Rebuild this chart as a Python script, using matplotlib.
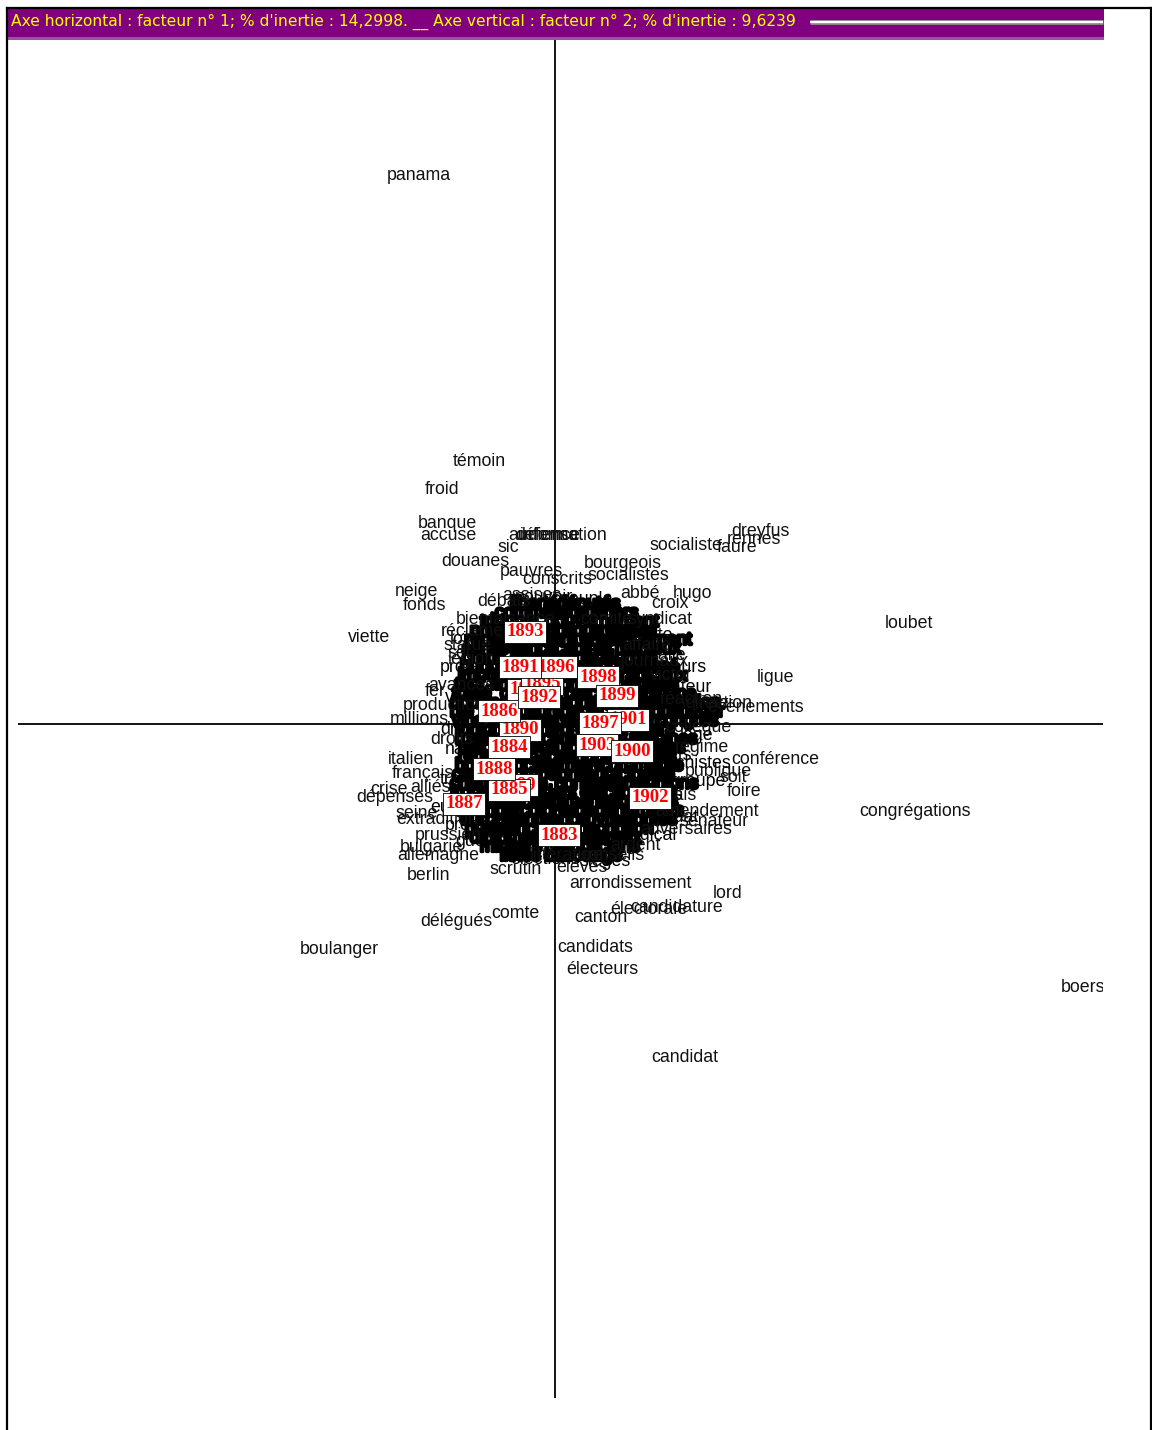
import matplotlib
matplotlib.use("Agg")
import matplotlib.pyplot as plt
import matplotlib.patheffects as pe
from matplotlib.patches import Rectangle

facteurs = [1, 2]
inerties = ["14,2998", "9,6239"]

# mots lisibles autour du nuage (coordonnées sur les facteurs 1 et 2)
mots = ["panama", "témoin", "froid", "banque", "accuse", "audience",
        "information", "défense", "sic", "douanes", "pauvres", "conscrits",
        "bourgeois", "socialistes", "socialiste", "faure", "dreyfus", "rennes",
        "abbé", "hugo", "croix", "syndicat", "assises", "débats",
        "neige", "fonds", "bienfaisance", "réclame", "viette", "loubet",
        "ligue", "événements", "direction", "conférence", "foire", "soit",
        "amendement", "sénateur", "adversaires", "argent", "conseils", "élèves",
        "arrondissement", "lord", "candidature", "électorale", "canton", "candidats",
        "électeurs", "candidat", "boers", "congrégations", "boulanger", "délégués",
        "comte", "scrutin", "berlin", "allemagne", "bulgarie", "prussien",
        "extradition", "seine", "dépenses", "crise", "alliés", "français",
        "italien", "droits", "millions", "production", "fer", "avances",
        "légion", "statue", "sel", "affaire", "journaux", "victor",
        "réaction", "collègue", "régime", "publique", "anglais", "comité",
        "littérature"]
f1 = [-1.68, -1.02, -1.30, -1.37, -1.35, -0.47,
      -0.35, -0.40, -0.58, -1.14, -0.55, -0.33,
      0.29, 0.33, 0.95, 1.62, 1.76, 1.72,
      0.65, 1.18, 0.96, 0.73, -0.53, -0.78,
      -1.60, -1.52, -0.99, -1.14, -2.07, 3.30,
      2.02, 1.52, 1.30, 1.76, 1.72, 1.65,
      1.00, 1.25, 0.85, 0.55, 0.25, 0.01,
      0.14, 1.58, 0.75, 0.55, 0.19, 0.02,
      0.11, 0.96, 5.06, 3.04, -2.55, -1.35,
      -0.64, -0.66, -1.48, -1.58, -1.55, -1.40,
      -1.59, -1.59, -1.99, -1.85, -1.45, -1.63,
      -1.67, -1.25, -1.65, -1.52, -1.30, -1.27,
      -1.07, -1.12, -1.08, 0.67, 0.65, 0.95,
      1.05, 1.10, 1.20, 1.30, 0.85, 0.25,
      -0.25]
f2 = [5.49, 2.62, 2.34, 2.00, 1.89, 1.88,
      1.88, 1.88, 1.76, 1.63, 1.53, 1.44,
      1.61, 1.49, 1.78, 1.76, 1.92, 1.84,
      1.31, 1.30, 1.20, 1.04, 1.28, 1.22,
      1.33, 1.18, 1.04, 0.93, 0.86, 1.00,
      0.46, 0.16, 0.20, -0.35, -0.68, -0.54,
      -0.88, -0.97, -1.06, -1.22, -1.31, -1.44,
      -1.60, -1.70, -1.83, -1.85, -1.94, -2.24,
      -2.46, -3.33, -2.63, -0.87, -2.26, -1.97,
      -1.89, -1.46, -1.52, -1.32, -1.24, -1.12,
      -0.95, -0.89, -0.73, -0.65, -0.63, -0.50,
      -0.35, -0.16, 0.04, 0.19, 0.32, 0.39,
      0.64, 0.78, 0.71, 0.78, 0.62, 0.48,
      0.24, -0.03, -0.24, -0.48, -0.71, 1.04,
      -1.31]

# mots en bordure du nuage central
mots_bord = ["loi", "projet", "vote", "droit", "nation", "traités",
             "europe", "presse", "guerre", "lutte", "salle", "discours",
             "orateur", "nationaliste", "patrie", "loge", "juifs", "anarchistes",
             "groupe", "élus", "mandat", "radical", "pouvoir", "peuple",
             "ville", "élections", "sièges"]
f1_bord = [-1.05, -1.15, -1.10, -1.15, -1.10, -1.15,
           -1.25, -1.10, -1.00, 0.85, 0.95, 0.85,
           1.00, 0.85, 1.10, 1.25, 1.05, 0.85,
           1.15, 0.95, 0.85, 0.70, -0.40, 0.05,
           0.35, -0.45, 0.25]
f2_bord = [0.84, 0.56, 0.27, -0.06, -0.26, -0.56,
           -0.84, -1.02, -1.18, 0.88, 0.69, 0.56,
           0.36, 0.20, 0.10, -0.11, -0.32, -0.40,
           -0.58, -0.71, -0.94, -1.12, 1.27, 1.24,
           1.16, -1.36, -1.38]

# mots du centre, superposés en masse autour de l'origine
mots_noyau = ["liberté", "députés",
              "commission", "ouvriers",
              "tribunal", "gouvernement",
              "préfet", "république", "grève", "église",
              "rente", "ministère", "enseignement",
              "sénat", "séance", "cabinet", "religieux",
              "crédit", "armée", "général", "ordre",
              "budget", "chambre", "catholiques", "clergé",
              "impôt", "emprunt", "majorité", "radicaux",
              "tarif", "finances", "procès", "militaire", "jury",
              "traité", "commerce", "officier", "capitaine",
              "douane", "industrie", "conseil", "manifestation",
              "blé", "agriculture", "pape", "catholique", "ouvrier",
              "vins", "colonies", "paris", "réunion", "congrès",
              "tonkin", "marine", "préfecture", "parti",
              "russie", "alliance", "républiques", "moines",
              "tsar", "empereur", "journal", "jésuites",
              "rentes", "service", "enquête", "écoles",
              "bourse", "société", "maire", "commune", "vote",
              "capital", "compagnie", "municipal", "fête",
              "chemins", "ligne", "conseillers", "réunions",
              "frontière", "soldats", "élection", "liste",
              "ambassadeur", "régiment", "sénateurs",
              "étranger", "colonel", "départements",
              "européenne", "manœuvres", "majorités",
              "puissances", "circonscription",
              "diplomatie", "opposition", "voix",
              "ministre", "républicains",
              "listes", "ballottage"]
f1_noyau = [-0.45, 0.02,
            -0.60, 0.20,
            -0.75, -0.10,
            -0.85, -0.35, 0.35, 0.55,
            -0.90, -0.50, 0.25,
            -0.93, -0.55, 0.00, 0.60,
            -0.93, -0.45, 0.00, 0.60,
            -0.95, -0.40, 0.20, 0.75,
            -0.97, -0.60, 0.00, 0.65,
            -1.00, -0.65, 0.05, 0.55, 0.95,
            -1.03, -0.55, 0.10, 0.70,
            -1.05, -0.50, 0.05, 0.60,
            -1.05, -0.75, 0.05, 0.45, 1.15,
            -1.03, -0.65, 0.00, 0.45, 1.00,
            -1.00, -0.50, 0.05, 0.85,
            -1.00, -0.55, 0.05, 0.85,
            -0.97, -0.60, 0.10, 0.70,
            -0.97, -0.45, 0.10, 0.70,
            -1.00, -0.50, 0.05, 0.45, 0.95,
            -1.03, -0.50, 0.25, 0.90,
            -1.05, -0.45, 0.00, 0.75,
            -1.05, -0.35, 0.25, 0.90,
            -1.05, -0.20, 0.45,
            -1.00, -0.35, 0.20,
            -0.95, -0.20, 0.50,
            -0.90, -0.15,
            -0.85, -0.10, 0.55,
            -0.75, -0.10,
            -0.55, -0.10]
f2_noyau = [1.20, 1.20,
            1.11, 1.11,
            1.02, 1.02,
            0.93, 0.93, 0.93, 0.93,
            0.84, 0.84, 0.84,
            0.75, 0.75, 0.75, 0.75,
            0.66, 0.66, 0.66, 0.66,
            0.57, 0.57, 0.57, 0.57,
            0.48, 0.48, 0.48, 0.48,
            0.39, 0.39, 0.39, 0.39, 0.39,
            0.30, 0.30, 0.30, 0.30,
            0.21, 0.21, 0.21, 0.21,
            0.12, 0.12, 0.12, 0.12, 0.12,
            0.03, 0.03, 0.03, 0.03, 0.03,
            -0.06, -0.06, -0.06, -0.06,
            -0.15, -0.15, -0.15, -0.15,
            -0.24, -0.24, -0.24, -0.24,
            -0.33, -0.33, -0.33, -0.33,
            -0.42, -0.42, -0.42, -0.42, -0.42,
            -0.51, -0.51, -0.51, -0.51,
            -0.60, -0.60, -0.60, -0.60,
            -0.69, -0.69, -0.69, -0.69,
            -0.78, -0.78, -0.78,
            -0.87, -0.87, -0.87,
            -0.96, -0.96, -0.96,
            -1.05, -1.05,
            -1.14, -1.14, -1.14,
            -1.23, -1.23,
            -1.32, -1.32]

# années (les premières de la liste sont dessinées dessous)
annees = ["1901", "1889", "1894", "1895", "1896", "1890", "1903",
          "1883", "1884", "1885", "1886", "1887", "1888", "1891",
          "1892", "1893", "1897", "1898", "1899", "1900", "1902"]
f1_annees = [0.73, -0.38, -0.27, -0.13, 0.01, -0.35, 0.42,
             0.04, -0.46, -0.46, -0.56, -0.91, -0.61, -0.35,
             -0.16, -0.30, 0.45, 0.43, 0.62, 0.77, 0.95]
f2_annees = [0.04, -0.61, 0.34, 0.40, 0.57, -0.06, -0.21,
             -1.11, -0.23, -0.66, 0.13, -0.80, -0.45, 0.57,
             0.27, 0.92, 0.01, 0.47, 0.28, -0.27, -0.74]

police = "Liberation Sans"

fig = plt.figure(figsize=(11.52, 14.30), dpi=100)
fig.patch.set_facecolor("white")

ax = fig.add_axes([18 / 1152, 32 / 1430, 1085 / 1152, 1358 / 1430])
ax.set_xlim(-5.37, 5.48)
ax.set_ylim(-6.74, 6.84)
ax.axis("off")
ax.axhline(0, color="black", lw=1.3, zorder=1)
ax.axvline(0, color="black", lw=1.3, zorder=1)

for m, x, y in zip(mots_noyau, f1_noyau, f2_noyau):
    ax.text(x, y, m, fontsize=12.8, family=police, color="black",
            ha="left", va="center", clip_on=True, zorder=2,
            path_effects=[pe.withStroke(linewidth=2.4, foreground="black")])

for m, x, y in zip(mots_bord, f1_bord, f2_bord):
    ax.text(x, y, m, fontsize=12.8, family=police, color="black",
            ha="left", va="center", clip_on=True, zorder=2)

for m, x, y in zip(mots, f1, f2):
    ax.text(x, y, m, fontsize=12.8, family=police, color="#111111",
            ha="left", va="center", clip_on=True, zorder=3)

for a, x, y in zip(annees, f1_annees, f2_annees):
    ax.text(x, y, a, fontsize=13.5, family="Liberation Serif", fontweight="bold",
            color="#ff0000", ha="center", va="center", zorder=5,
            bbox=dict(boxstyle="square,pad=0.12", fc="white", ec="black", lw=0.6))

# bandeau de titre et cadre
hd = fig.add_axes([0, 0, 1, 1], zorder=10)
hd.set_xlim(0, 1152)
hd.set_ylim(1430, 0)
hd.axis("off")
hd.patch.set_visible(False)
hd.add_patch(Rectangle((8, 9), 1096, 30, fc="#800080", ec="none"))
hd.add_patch(Rectangle((8, 37), 1096, 3, fc="#a050a0", ec="none"))
titre = ("Axe horizontal : facteur n° %d; %% d'inertie : %s. __ "
         "Axe vertical : facteur n° %d; %% d'inertie : %s"
         % (facteurs[0], inerties[0], facteurs[1], inerties[1]))
hd.text(11, 22, titre, fontsize=11.2, family="DejaVu Sans", color="#ffff00",
        ha="left", va="center")
hd.plot([810, 1103], [22, 22], color="#909090", lw=3.4, solid_capstyle="butt")
hd.plot([810, 1103], [22, 22], color="white", lw=1.6, solid_capstyle="butt")
hd.plot([7, 7], [8, 1430], color="black", lw=1.6)
hd.plot([1151, 1151], [8, 1430], color="black", lw=1.6)
hd.plot([7, 1151], [8, 8], color="black", lw=1.6)

fig.savefig("out.png", dpi=100)
